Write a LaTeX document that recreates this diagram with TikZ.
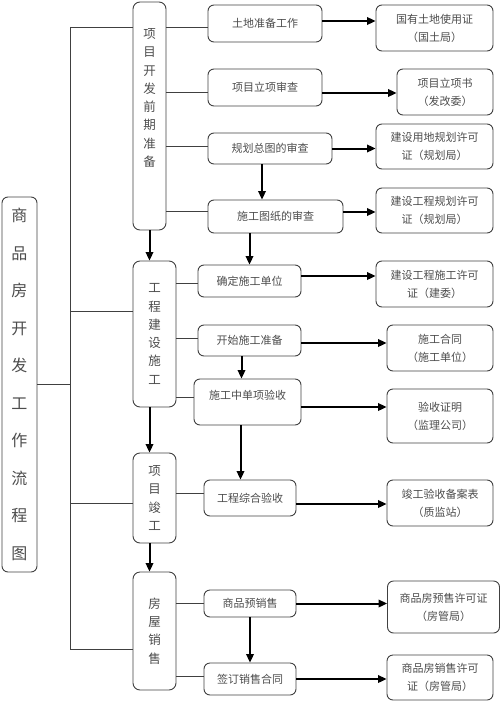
\documentclass[tikz,border=0pt]{standalone}
\usepackage{fontspec}
\setmainfont{Noto Sans CJK SC}
\usetikzlibrary{arrows.meta,positioning}

\begin{document}
\begin{tikzpicture}[%
    x=1pt, y=-1pt,
    >={Stealth[length=8.5pt,width=7.5pt,inset=0pt]},
    box/.style={draw=black!75, line width=0.9pt, rounded corners=6pt,
      inner sep=2pt, align=center, text=black!70},
    title/.style={box, font=\fontsize{16pt}{37.5pt}\selectfont},
    phase/.style={box, rounded corners=7pt, font=\fontsize{12.5pt}{18.3pt}\selectfont},
    task/.style={box, font=\fontsize{11pt}{18pt}\selectfont},
    doc/.style={task},
    flow/.style={->, line width=2pt, black},
    link/.style={draw=black!75, line width=0.9pt}
  ]
  \useasboundingbox (0,0) rectangle (501,701);

  % left title and the four phases
  \node[title, minimum width=35, minimum height=375] (t) at (19.5,384.5)
    {商\\品\\房\\开\\发\\工\\作\\流\\程\\图};
  \node[phase, minimum width=33, minimum height=228, text depth=37pt] (p1) at (149.5,116)
    {项\\目\\开\\发\\前\\期\\准\\备};
  \node[phase, minimum width=43, minimum height=146] (p2) at (154.5,334)
    {工\\程\\建\\设\\施\\工};
  \node[phase, minimum width=43, minimum height=90] (p3) at (154.5,498)
    {项\\目\\竣\\工};
  \node[phase, minimum width=43, minimum height=118] (p4) at (154.5,631)
    {房\\屋\\销\\售};

  % tasks
  \node[task, minimum width=114, minimum height=37] (a1) at (265,23.5) {土地准备工作};
  \node[task, minimum width=114, minimum height=37] (a2) at (265,87.5) {项目立项审查};
  \node[task, minimum width=124, minimum height=31] (a3) at (270,148.5) {规划总图的审查};
  \node[task, minimum width=135, minimum height=33] (a4) at (275.5,216.5) {施工图纸的审查};
  \node[task, minimum width=103, minimum height=32] (b1) at (249.5,281) {确定施工单位};
  \node[task, minimum width=103, minimum height=31] (b2) at (249.5,340.5) {开始施工准备};
  \node[task, minimum width=107, minimum height=46, text depth=15pt] (b3) at (247.5,402) {施工中单项验收};
  \node[task, minimum width=92, minimum height=36] (c1) at (250,498) {工程综合验收};
  \node[task, minimum width=92, minimum height=27] (d1) at (250,603.5) {商品预销售};
  \node[task, minimum width=92, minimum height=32] (d2) at (250,679) {签订销售合同};

  % documents
  \node[doc, minimum width=117, minimum height=46] (r1) at (434.5,28) {国有土地使用证\\（国土局）};
  \node[doc, minimum width=96, minimum height=46] (r2) at (445,92) {项目立项书\\（发改委）};
  \node[doc, minimum width=117, minimum height=45] (r3) at (434.5,146.5) {建设用地规划许可\\证（规划局）};
  \node[doc, minimum width=117, minimum height=45] (r4) at (434.5,210.5) {建设工程规划许可\\证（规划局）};
  \node[doc, minimum width=117, minimum height=46] (s1) at (434.5,284) {建设工程施工许可\\证（建委）};
  \node[doc, minimum width=106, minimum height=46] (s2) at (440,348) {施工合同\\（施工单位）};
  \node[doc, minimum width=106, minimum height=54] (s3) at (440,416) {验收证明\\（监理公司）};
  \node[doc, minimum width=106, minimum height=46] (u1) at (440,503) {竣工验收备案表\\（质监站）};
  \node[doc, minimum width=112, minimum height=52] (v1) at (443.5,607) {商品房预售许可证\\（房管局）};
  \node[doc, minimum width=106, minimum height=45] (v2) at (440,677.5) {商品房销售许可\\证（房管局）};

  % trunk
  \coordinate (j0) at (70,384);
  \coordinate (j1) at (70,27);
  \coordinate (j2) at (70,311);
  \coordinate (j3) at (70,503);
  \coordinate (j4) at (70,649);
  \draw[link] (t.east |- j0) -- (j0);
  \draw[link] (j1) -- (j4);
  \draw[link] (j1) -- (j1 -| p1.west);
  \draw[link] (j2) -- (j2 -| p2.west);
  \draw[link] (j3) -- (j3 -| p3.west);
  \draw[link] (j4) -- (j4 -| p4.west);

  % phases to tasks
  \draw[link] ([yshift=-3.5pt]a1.west -| p1.east) -- ([yshift=-3.5pt]a1.west);
  \draw[link] ([yshift=-4.5pt]a2.west -| p1.east) -- ([yshift=-4.5pt]a2.west);
  \draw[link] ([yshift=2.5pt]a3.west -| p1.east) -- ([yshift=2.5pt]a3.west);
  \draw[link] ([yshift=5.5pt]a4.west -| p1.east) -- ([yshift=5.5pt]a4.west);
  \draw[link] ([yshift=-2pt]b1.west -| p2.east) -- ([yshift=-2pt]b1.west);
  \draw[link] ([yshift=2.5pt]b2.west -| p2.east) -- ([yshift=2.5pt]b2.west);
  \draw[link] ([yshift=5pt]b3.west -| p2.east) -- ([yshift=5pt]b3.west);
  \draw[link] ([yshift=5pt]c1.west -| p3.east) -- ([yshift=5pt]c1.west);
  \draw[link] (p4.east |- d1) -- (d1);
  \draw[link] ([yshift=3pt]d2.west -| p4.east) -- ([yshift=3pt]d2.west);

  % phase flow
  \draw[flow] (p1) -- (p1 |- p2.north);
  \draw[flow] (p2.south -| p1) -- (p1 |- p3.north);
  \draw[flow] (p3.south -| p1) -- (p1 |- p4.north);

  % task flow
  \draw[flow] ([xshift=-8pt]a3.south) -- ([xshift=-8pt]a3.south |- a4.north);
  \draw[flow] (a4.south -| b1) -- (b1);
  \draw[flow] ([xshift=-8pt]b2.south) -- ([xshift=-8pt]b2.south |- b3.north);
  \draw[flow] ([xshift=-7pt]b3.south) -- ([xshift=-7pt]b3.south |- c1.north);
  \draw[flow] (d1) -- (d2);

  % tasks to documents
  \draw[flow] ([yshift=2.5pt]a1.east) -- ([yshift=2.5pt]a1.east -| r1.west);
  \draw[flow] ([yshift=-5.5pt]a2.east) -- ([yshift=-5.5pt]a2.east -| r2.west);
  \draw[flow] (a3) -- (a3 -| r3.west);
  \draw[flow] ([yshift=4.5pt]a4.east) -- ([yshift=4.5pt]a4.east -| r4.west);
  \draw[flow] ([yshift=5pt]b1.east) -- ([yshift=5pt]b1.east -| s1.west);
  \draw[flow] ([yshift=-2.5pt]b2.east) -- ([yshift=-2.5pt]b2.east -| s2.west);
  \draw[flow] ([yshift=-5pt]b3.east) -- ([yshift=-5pt]b3.east -| s3.west);
  \draw[flow] ([yshift=-6pt]c1.east) -- ([yshift=-6pt]c1.east -| u1.west);
  \draw[flow] (d1) -- (d1 -| v1.west);
  \draw[flow] (d2) -- (d2 -| v2.west);
\end{tikzpicture}
\end{document}
